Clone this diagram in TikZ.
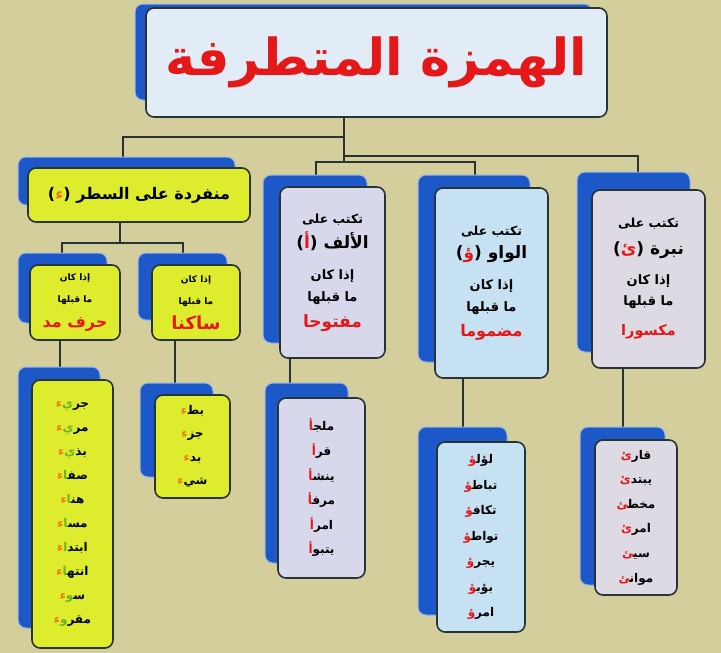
\documentclass[tikz,border=0pt]{standalone}
\usepackage{fontspec}
\usepackage{xcolor}
\TeXXeTstate=1
\newfontfamily\ar[Script=Arabic]{DejaVu Sans}
\newcommand\zj{^^^^200d}
\newcommand\rl[1]{\beginR#1\endR}
\newcommand\fs[1]{\fontsize{#1}{#1}\selectfont}
\definecolor{bg}{RGB}{212,206,156}
\definecolor{bblue}{RGB}{28,88,200}
\definecolor{ylw}{RGB}{222,236,46}
\definecolor{edge}{RGB}{40,52,52}
\definecolor{ttl}{RGB}{226,236,246}
\definecolor{lav}{RGB}{216,216,236}
\definecolor{lblue}{RGB}{198,226,242}
\definecolor{lgray}{RGB}{222,218,228}
\definecolor{rd}{RGB}{228,24,24}
\definecolor{org}{RGB}{242,122,20}
\definecolor{grn}{RGB}{110,178,40}
\newcommand\Rd[1]{\textcolor{rd}{#1}}
\newcommand\Or[1]{\textcolor{org}{#1}}
\newcommand\Gr[1]{\textcolor{grn}{#1}}
\pgfdeclarelayer{bgl}
\pgfdeclarelayer{conn}
\pgfsetlayers{bgl,conn,main}
\tikzset{
  back/.style={fill=bblue, draw=white!55!bblue, line width=1pt, rounded corners=8pt},
  card/.style={draw=edge, line width=1.6pt, rounded corners=8pt, inner sep=0pt, align=center, font=\ar\bfseries},
  link/.style={draw=edge, line width=2pt}
}
\begin{document}
\begin{tikzpicture}[x=1pt,y=-1pt]
\begin{pgfonlayer}{bgl}
\useasboundingbox (0,0) rectangle (721,653);
\fill[bg] (0,0) rectangle (721,653);
\end{pgfonlayer}
% junction coordinates
\coordinate (j1) at (344,137);
\coordinate (j2) at (344,156);
\coordinate (j3) at (344,162);
\coordinate (j4) at (120,243);
% back shapes
\fill[back] (135,4) rectangle (592,100);
\fill[back] (18,157) rectangle (235,205);
\fill[back] (18,253) rectangle (107,323);
\fill[back] (138,253) rectangle (227,320);
\fill[back] (18,367) rectangle (100,628);
\fill[back] (140,383) rectangle (213,477);
\fill[back] (263,175) rectangle (367,343);
\fill[back] (265,383) rectangle (348,563);
\fill[back] (418,175) rectangle (530,362);
\fill[back] (418,427) rectangle (507,615);
\fill[back] (577,172) rectangle (690,352);
\fill[back] (580,427) rectangle (665,585);
% cards
\node[card, fill=ttl, minimum width=461, minimum height=109] (title) at (376.5,62.5)
  {\fs{51}\Rd{\rl{الهمزة المتطرفة}}};
\node[card, fill=ylw, minimum width=222, minimum height=54] (yhdr) at (139,195)
  {\fs{16})\Or{ء}( \rl{منفردة على السطر}};
\node[card, fill=ylw, minimum width=90, minimum height=75, font=\ar\bfseries\fontsize{9}{22}\selectfont] (madd) at (75,302.5)
  {\rl{إذا كان}\\ \rl{ما قبلها}\\[3pt] {\fs{16}\Rd{\rl{حرف مد}}}};
\node[card, fill=ylw, minimum width=88, minimum height=75, font=\ar\bfseries\fontsize{9}{22}\selectfont] (sakin) at (196,302.5)
  {\rl{إذا كان}\\ \rl{ما قبلها}\\[3pt] {\fs{18}\Rd{\rl{ساكنا}}}};
\node[card, fill=ylw, minimum width=81, minimum height=268, font=\ar\bfseries\fontsize{12}{24}\selectfont] (longlist) at (72.5,514)
  {\Or{ء}\Gr{ي}جر\\
   \Or{ء}\Gr{ي}مر\\
   \Or{ء}\Gr{ي}بذ\\
   \Or{ء}\Gr{\zj ا}صف\zj\\
   \Or{ء}\Gr{\zj ا}هن\zj\\
   \Or{ء}\Gr{\zj ا}مس\zj\\
   \Or{ء}\Gr{ا}ابتد\\
   \Or{ء}\Gr{\zj ا}انته\zj\\
   \Or{ء}\Gr{\zj و}س\zj\\
   \Or{ء}\Gr{و}مقر};
\node[card, fill=ylw, minimum width=75, minimum height=103, font=\ar\bfseries\fontsize{12}{23.3}\selectfont] (shortlist) at (192.5,446.5)
  {\Or{ء}بط\\ \Or{ء}جز\\ \Or{ء}بد\\ \Or{ء}شي};
\node[card, fill=lav, minimum width=105, minimum height=171, font=\ar\bfseries\fontsize{12.5}{22}\selectfont] (alifhdr) at (332.5,272.5)
  {\rl{تكتب على}\\[3pt]
   {\fs{17})\Rd{أ}( الألف}\\[9pt]
   {\fs{13}\rl{إذا كان}}\\
   {\fs{13}\rl{ما قبلها}}\\[4pt]
   {\fs{17}\Rd{\rl{مفتوحا}}}};
\node[card, fill=lav, minimum width=87, minimum height=180, font=\ar\bfseries\fontsize{12}{24.6}\selectfont] (aliflist) at (321.5,488)
  {\Rd{\zj أ}ملج\zj\\
   \Rd{أ}قر\\
   \Rd{\zj أ}ينش\zj\\
   \Rd{\zj أ}مرف\zj\\
   \Rd{أ}امر\\
   \Rd{أ}يتبو};
\node[card, fill=lblue, minimum width=113, minimum height=190, font=\ar\bfseries\fontsize{12.5}{22}\selectfont] (wawhdr) at (491.5,283)
  {\rl{تكتب على}\\[1pt]
   {\fs{17})\Rd{ؤ}( الواو}\\[9pt]
   {\fs{13}\rl{إذا كان}}\\
   {\fs{13}\rl{ما قبلها}}\\[3pt]
   {\fs{16}\Rd{\rl{مضموما}}}};
\node[card, fill=lblue, minimum width=88, minimum height=190, font=\ar\bfseries\fontsize{12}{25.5}\selectfont] (wawlist) at (481,537)
  {\Rd{\zj ؤ}لؤل\zj\\
   \Rd{\zj ؤ}تباط\zj\\
   \Rd{\zj ؤ}تكاف\zj\\
   \Rd{\zj ؤ}تواط\zj\\
   \Rd{ؤ}يجر\\
   \Rd{\zj ؤ}بؤب\zj\\
   \Rd{ؤ}امر};
\node[card, fill=lgray, minimum width=113, minimum height=178, font=\ar\bfseries\fontsize{12.5}{24}\selectfont] (yahdr) at (648.5,279)
  {\rl{تكتب على}\\[3pt]
   {\fs{17})\Rd{ئ}( نبرة}\\[6pt]
   {\fs{13}\rl{إذا كان}}\\[-3pt]
   {\fs{13}\rl{ما قبلها}}\\[6pt]
   {\fs{14.5}\Rd{\rl{مكسورا}}}};
\node[card, fill=lgray, minimum width=82, minimum height=155, font=\ar\bfseries\fontsize{12}{24.6}\selectfont] (yalist) at (636,517.5)
  {\Rd{ئ}قار\\
   \Rd{ئ}يبتد\\
   \Rd{\zj ئ}مخط\zj\\
   \Rd{ئ}امر\\
   \Rd{\zj ئ}سي\zj\\
   \Rd{\zj ئ}موان\zj};
% connectors (behind everything but the background)
\begin{pgfonlayer}{conn}
\draw[link] (title.south -| j1) -- (j3);
\draw[link] (j1) -| ([xshift=-16pt]yhdr.north);
\draw[link] (j2) -| ([xshift=-10.5pt]yahdr.north);
\draw[link] ([xshift=-16.5pt]alifhdr.north) |- (j3) -| ([xshift=-16.5pt]wawhdr.north);
\draw[link] ([xshift=-19pt]yhdr.south) -- (j4);
\draw[link] ([xshift=-13pt]madd.north) |- (j4) -| ([xshift=-13pt]sakin.north);
\draw[link] ([xshift=-15pt]madd.south) -- ([xshift=-15pt]madd.south |- longlist.north);
\draw[link] ([xshift=-21pt]sakin.south) -- ([xshift=-21pt]sakin.south |- shortlist.north);
\draw[link] ([xshift=-42.5pt]alifhdr.south) -- ([xshift=-42.5pt]alifhdr.south |- aliflist.north);
\draw[link] ([xshift=-28.5pt]wawhdr.south) -- ([xshift=-28.5pt]wawhdr.south |- wawlist.north);
\draw[link] ([xshift=-25.5pt]yahdr.south) -- ([xshift=-25.5pt]yahdr.south |- yalist.north);
\end{pgfonlayer}
\end{tikzpicture}
\end{document}
